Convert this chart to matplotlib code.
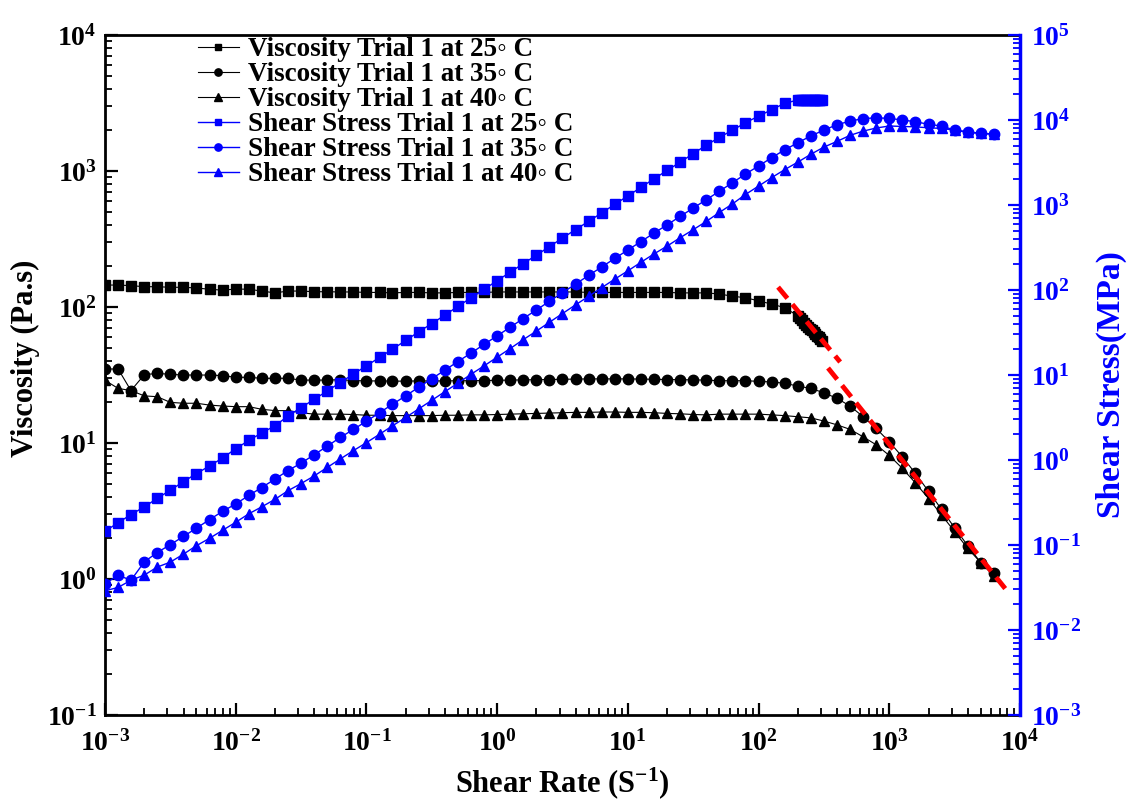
import matplotlib.pyplot as plt
import numpy as np
from matplotlib.ticker import LogLocator, NullFormatter

plt.rcParams.update({
    "font.family": ["Liberation Serif", "DejaVu Serif"],
    "font.weight": "bold",
    "mathtext.fontset": "custom",
    "mathtext.rm": "Liberation Serif:bold",
    "mathtext.bf": "Liberation Serif:bold",
    "mathtext.it": "Liberation Serif:italic:bold",
    "mathtext.default": "bf",
    "axes.unicode_minus": True,
})

BLUE = "#0000ff"

# Data (shear rate, 10 points per decade)
rate = [0.001, 0.00126, 0.00158, 0.002, 0.00251, 0.00316, 0.00398, 0.00501, 0.00631, 0.00794,
        0.01, 0.0126, 0.0158, 0.02, 0.0251, 0.0316, 0.0398, 0.0501, 0.0631, 0.0794,
        0.1, 0.126, 0.158, 0.2, 0.251, 0.316, 0.398, 0.501, 0.631, 0.794,
        1, 1.26, 1.58, 2, 2.51, 3.16, 3.98, 5.01, 6.31, 7.94,
        10, 12.6, 15.8, 20, 25.1, 31.6, 39.8, 50.1, 63.1, 79.4,
        100, 126, 158, 200, 251, 316, 398, 501, 631, 794,
        1000, 1260, 1580, 2000, 2510, 3160, 3980, 5010, 6310]

# 25 C: first 53 rates, then a dense run of points
rate_25_tail = [200, 208, 216, 224, 232, 240, 248, 256, 264, 272, 280, 288, 296, 304]

visc_25 = [145, 145, 143.6, 141, 141, 139.6, 139.6, 138, 135, 133,
           135.6, 135, 131, 127, 131, 131, 129.5, 129.5, 129, 129,
           128, 128, 127, 128, 128, 127, 127, 128, 128, 128,
           129, 129, 129, 129, 129, 129, 129, 128, 128, 128,
           128, 128, 128, 128, 127, 127, 127, 124.6, 120, 117,
           111, 105, 99]
visc_25_tail = [86.0, 82.7, 79.6, 76.8, 74.1, 71.7, 69.4, 67.2, 65.2, 63.2, 61.4, 59.7, 58.1, 56.6]

stress_25 = [0.145, 0.183, 0.228, 0.281, 0.354, 0.441, 0.556, 0.692, 0.852, 1.056,
             1.356, 1.70, 2.08, 2.53, 3.29, 4.14, 5.16, 6.49, 8.14, 10.25,
             12.8, 16.1, 20.1, 25.5, 32.2, 40.2, 50.6, 64.2, 80.8, 101.7,
             129, 162, 204, 257, 324, 408, 514, 642, 808, 1017,
             1280, 1612, 2029, 2554, 3190, 4016, 5056, 6245, 7572, 9293,
             11100, 13220, 15690]
stress_25_tail = [17200, 17200, 17190, 17200, 17190, 17210, 17210, 17200, 17210, 17190,
                  17190, 17190, 17200, 17210]

visc_35 = [35.0, 35.0, 24.3, 31.8, 32.5, 32.0, 31.6, 31.6, 31.6, 31.3,
           30.4, 30.4, 29.9, 29.9, 29.9, 29.0, 29.0, 29.0, 29.2, 28.8,
           28.6, 28.6, 28.5, 28.5, 28.6, 28.6, 28.6, 28.7, 28.7, 28.8,
           28.9, 29.0, 29.1, 29.2, 29.3, 29.4, 29.5, 29.6, 29.6, 29.6,
           29.6, 29.5, 29.4, 29.3, 29.2, 29.1, 29.0, 28.7, 28.7, 28.7,
           28.4, 28.1, 27.5, 26.2, 25.2, 23.4, 21.3, 18.7, 15.6, 12.8,
           10.2, 7.9, 6.0, 4.4, 3.25, 2.38, 1.76, 1.32, 1.10]

stress_35 = [0.0350, 0.0441, 0.0385, 0.0634, 0.0816, 0.101, 0.126, 0.158, 0.199, 0.249,
             0.304, 0.383, 0.474, 0.597, 0.751, 0.917, 1.154, 1.453, 1.843, 2.288,
             2.86, 3.60, 4.52, 5.69, 7.18, 9.04, 11.4, 14.4, 18.1, 22.9,
             28.9, 36.5, 46.1, 58.3, 73.6, 93.0, 117.4, 148.4, 186.8, 235.1,
             296, 371, 466, 585, 734, 920, 1154, 1450, 1830, 2310,
             2880, 3600, 4450, 5400, 6500, 7600, 8800, 9700, 10400, 10600,
             10450, 10000, 9550, 8900, 8500, 7600, 7300, 6950, 6850]

visc_40 = [28.9, 25.2, 24.3, 22.2, 21.9, 19.9, 19.6, 19.6, 19.0, 18.7,
           18.5, 18.5, 17.7, 17.3, 17.3, 16.7, 16.3, 16.3, 16.3, 16.2,
           16.0, 16.0, 15.9, 15.9, 15.9, 15.9, 16.0, 16.0, 16.1, 16.1,
           16.2, 16.3, 16.4, 16.5, 16.6, 16.7, 16.8, 16.8, 16.9, 16.9,
           16.8, 16.8, 16.7, 16.5, 16.4, 16.2, 16.1, 16.3, 16.3, 16.3,
           16.3, 16.1, 15.9, 15.6, 15.3, 14.5, 13.6, 12.6, 11.1, 9.7,
           8.1, 6.5, 5.1, 3.9, 2.96, 2.23, 1.68, 1.32, 1.05]

stress_40 = [0.0289, 0.0317, 0.0385, 0.0443, 0.0550, 0.0629, 0.0780, 0.0982, 0.120, 0.149,
             0.185, 0.233, 0.281, 0.345, 0.435, 0.528, 0.649, 0.817, 1.029, 1.287,
             1.60, 2.01, 2.52, 3.17, 3.99, 5.03, 6.37, 8.02, 10.2, 12.8,
             16.2, 20.5, 26.0, 32.9, 41.7, 52.8, 66.9, 84.2, 106.6, 134.2,
             168, 212, 265, 329, 412, 512, 641, 817, 1029, 1330,
             1670, 2100, 2600, 3200, 3950, 4800, 5600, 6600, 7400, 8050,
             8500, 8400, 8300, 8100, 7950, 7600, 7150, 6950, 6800]

# red dashed power-law guide lines
fit_a_x = [141, 421]
fit_a_y = [140, 39.4]
fit_b_x = [340, 8110]
fit_b_y = [35.6, 0.80]

rate_25 = rate[:len(visc_25)] + rate_25_tail

fig = plt.figure(figsize=(11.33, 8.06), dpi=100)
ax = fig.add_axes([105 / 1133, 1 - 715 / 806, 915 / 1133, 680 / 806])
ax2 = ax.twinx()

lw_k, lw_b = 0.8, 1.0
l1, = ax.plot(rate_25, visc_25 + visc_25_tail, "-", color="black", lw=lw_k,
              marker="s", ms=6.5, mec="black", mfc="black")
l2, = ax.plot(rate, visc_35, "-", color="black", lw=lw_k,
              marker="o", ms=7.5, mec="black", mfc="black")
l3, = ax.plot(rate, visc_40, "-", color="black", lw=lw_k,
              marker="^", ms=7.5, mec="black", mfc="black")

ax.plot(fit_a_x, fit_a_y, color="red", lw=3.5, dashes=(3, 1.6), zorder=5)
ax.plot(fit_b_x, fit_b_y, color="red", lw=3.5, dashes=(3, 1.6), zorder=5)

l4, = ax2.plot(rate_25, stress_25 + stress_25_tail, "-", color=BLUE, lw=lw_b,
               marker="s", ms=6.5, mec=BLUE, mfc=BLUE)
l5, = ax2.plot(rate, stress_35, "-", color=BLUE, lw=lw_b,
               marker="o", ms=7.5, mec=BLUE, mfc=BLUE)
l6, = ax2.plot(rate, stress_40, "-", color=BLUE, lw=lw_b,
               marker="^", ms=7.5, mec=BLUE, mfc=BLUE)

# Axes
ax.set_xscale("log")
ax.set_yscale("log")
ax2.set_yscale("log")
ax.set_xlim(1e-3, 1e4)
ax.set_ylim(1e-1, 1e4)
ax2.set_ylim(1e-3, 1e5)

for a in (ax.xaxis, ax.yaxis, ax2.yaxis):
    a.set_major_locator(LogLocator(base=10, numticks=20))
    a.set_minor_locator(LogLocator(base=10, subs=np.arange(2, 10), numticks=20))
    a.set_minor_formatter(NullFormatter())

ax.tick_params(which="both", direction="in", top=False, right=False,
               labelsize=20, colors="black")
ax.tick_params(which="major", length=9, width=1.6)
ax.tick_params(which="minor", length=5, width=1.3)
ax.tick_params(axis="x", pad=11)
ax.tick_params(axis="y", pad=6)
ax2.tick_params(axis="y", which="both", direction="in", colors=BLUE,
                labelsize=20, pad=8)
ax2.tick_params(axis="y", which="major", length=9, width=1.6)
ax2.tick_params(axis="y", which="minor", length=5, width=1.3)

for s in ax.spines.values():
    s.set_linewidth(2)
for s in ("left", "top", "bottom"):
    ax2.spines[s].set_visible(False)
ax2.spines["right"].set_color(BLUE)
ax2.spines["right"].set_linewidth(2.5)

ax.set_xlabel("Shear Rate (S$^{-1}$)", fontsize=22, fontweight="bold", labelpad=6)
ax.set_ylabel("Viscosity (Pa.s)", fontsize=22, fontweight="bold")
ax.yaxis.set_label_coords((40 - 105) / 915, (715 - 358) / 680)
ax2.set_ylabel("Shear Stress(MPa)", fontsize=24, fontweight="bold", color=BLUE)
ax2.yaxis.set_label_coords((1096 - 105) / 915, (715 - 385) / 680)

labels = ["Viscosity Trial 1 at 25\u25e6 C",
          "Viscosity Trial 1 at 35\u25e6 C",
          "Viscosity Trial 1 at 40\u25e6 C",
          "Shear Stress Trial 1 at 25\u25e6 C",
          "Shear Stress Trial 1 at 35\u25e6 C",
          "Shear Stress Trial 1 at 40\u25e6 C"]
leg = ax2.legend([l1, l2, l3, l4, l5, l6], labels, loc="upper left",
                 bbox_to_anchor=(198 / 1133, 1 - 37 / 806),
                 bbox_transform=fig.transFigure, frameon=False,
                 prop={"size": 19.5, "weight": "bold"},
                 handlelength=1.5, handletextpad=0.35, labelspacing=0.0,
                 borderpad=0, borderaxespad=0, markerscale=0.7)

plt.savefig("out.png", dpi=100)
